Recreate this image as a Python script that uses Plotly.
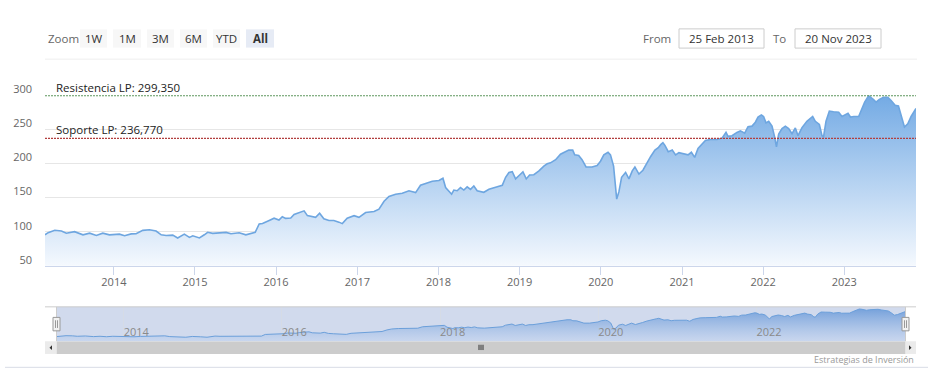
import plotly.graph_objects as go

# ---------------- data ----------------
dates = [
    "2013-02-25", "2013-03-11", "2013-04-10", "2013-05-10", "2013-06-01", "2013-07-08",
    "2013-08-15", "2013-09-14", "2013-10-14", "2013-11-12", "2013-12-12", "2014-01-26",
    "2014-02-18", "2014-03-20", "2014-04-11", "2014-05-11", "2014-06-10", "2014-07-10",
    "2014-08-02", "2014-08-24", "2014-09-23", "2014-10-15", "2014-11-14", "2014-12-07",
    "2014-12-22", "2015-01-21", "2015-02-12", "2015-02-27", "2015-03-22", "2015-04-21",
    "2015-05-21", "2015-06-12", "2015-07-19", "2015-08-18", "2015-09-10", "2015-09-29",
    "2015-10-17", "2015-11-01", "2015-12-01", "2015-12-23", "2016-01-14", "2016-01-29",
    "2016-02-13", "2016-03-07", "2016-03-22", "2016-04-21", "2016-05-06", "2016-05-21",
    "2016-06-12", "2016-06-27", "2016-07-15", "2016-08-03", "2016-08-26", "2016-09-17",
    "2016-10-10", "2016-10-25", "2016-11-16", "2016-12-17", "2017-01-08", "2017-02-07",
    "2017-03-17", "2017-04-08", "2017-05-01", "2017-05-23", "2017-06-22", "2017-07-22",
    "2017-08-21", "2017-09-20", "2017-10-12", "2017-11-04", "2017-12-04", "2018-01-03",
    "2018-01-21", "2018-02-02", "2018-03-01", "2018-03-11", "2018-03-26", "2018-04-10",
    "2018-04-25", "2018-05-10", "2018-05-25", "2018-06-09", "2018-06-24", "2018-07-24",
    "2018-08-16", "2018-09-15", "2018-09-30", "2018-10-15", "2018-10-30", "2018-11-14",
    "2018-11-29", "2018-12-14", "2019-01-01", "2019-01-16", "2019-01-31", "2019-02-15",
    "2019-03-06", "2019-03-29", "2019-04-20", "2019-05-05", "2019-05-20", "2019-06-12",
    "2019-07-04", "2019-07-26", "2019-08-10", "2019-08-28", "2019-09-06", "2019-09-24",
    "2019-10-09", "2019-10-27", "2019-11-23", "2019-12-16", "2019-12-31", "2020-01-15",
    "2020-02-03", "2020-02-14", "2020-02-28", "2020-03-13", "2020-03-23", "2020-04-04",
    "2020-04-22", "2020-05-07", "2020-05-22", "2020-06-03", "2020-06-21", "2020-07-09",
    "2020-07-24", "2020-08-13", "2020-09-01", "2020-09-16", "2020-09-27", "2020-10-07",
    "2020-10-16", "2020-10-31", "2020-11-18", "2020-12-03", "2020-12-18", "2021-01-09",
    "2021-01-28", "2021-02-12", "2021-02-27", "2021-03-14", "2021-04-01", "2021-04-16",
    "2021-05-09", "2021-06-08", "2021-06-30", "2021-07-18", "2021-07-27", "2021-08-14",
    "2021-09-05", "2021-09-21", "2021-10-10", "2021-10-25", "2021-11-12", "2021-11-27",
    "2021-12-09", "2021-12-24", "2022-01-03", "2022-01-14", "2022-01-26", "2022-02-10",
    "2022-02-22", "2022-03-02", "2022-03-12", "2022-03-27", "2022-04-11", "2022-04-26",
    "2022-05-11", "2022-05-26", "2022-06-07", "2022-06-25", "2022-07-17", "2022-08-01",
    "2022-08-12", "2022-08-24", "2022-09-11", "2022-09-23", "2022-09-30", "2022-10-11",
    "2022-10-26", "2022-11-14", "2022-12-07", "2022-12-22", "2023-01-06", "2023-01-18",
    "2023-01-29", "2023-02-13", "2023-03-07", "2023-03-19", "2023-04-03", "2023-04-21",
    "2023-05-03", "2023-05-13", "2023-05-24", "2023-06-08", "2023-06-27", "2023-07-16",
    "2023-07-31", "2023-08-18", "2023-09-02", "2023-09-17", "2023-09-29", "2023-10-14",
    "2023-10-29", "2023-11-20",
]
values = [
    95.4, 98.6, 102.0, 101.0, 97.8, 100.0,
    95.4, 97.8, 94.4, 97.8, 95.4, 96.4,
    94.0, 96.8, 97.0, 102.0, 102.9, 101.0,
    95.4, 94.4, 95.0, 90.8, 96.4, 91.6,
    94.0, 90.8, 95.5, 99.2, 97.5, 98.0,
    99.0, 97.0, 98.5, 95.4, 97.8, 99.0,
    111.3, 112.0, 116.5, 119.7, 117.0, 122.0,
    119.5, 120.0, 125.3, 129.0, 130.5, 123.5,
    122.0, 121.0, 127.0, 119.0, 116.5, 116.5,
    114.0, 111.8, 119.7, 123.5, 121.0, 128.0,
    129.5, 133.0, 144.6, 151.6, 154.9, 156.3,
    160.0, 157.2, 168.0, 170.3, 174.0, 175.0,
    178.3, 164.7, 154.9, 161.0, 160.0, 164.7,
    161.0, 165.7, 162.0, 167.0, 160.0, 157.7,
    162.0, 165.0, 166.6, 168.0, 179.7, 186.7,
    188.0, 177.3, 183.0, 187.7, 177.3, 183.0,
    183.5, 189.0, 196.0, 199.4, 200.8, 205.4,
    213.4, 217.2, 219.5, 219.5, 212.5, 211.6,
    205.4, 194.8, 194.8, 197.0, 203.2, 212.5,
    216.3, 212.5, 196.0, 147.8, 158.6, 179.7,
    186.7, 177.3, 189.0, 194.8, 184.4, 190.0,
    199.4, 210.2, 219.5, 222.9, 227.5, 230.3,
    226.5, 217.2, 219.5, 212.5, 215.8, 213.9,
    212.5, 216.3, 208.8, 221.9, 229.0, 233.6,
    235.0, 235.0, 237.0, 245.4, 239.7, 240.6,
    245.4, 247.6, 244.4, 253.8, 254.6, 260.3,
    267.9, 271.0, 268.7, 259.4, 261.7, 254.6,
    238.3, 224.3, 243.0, 251.0, 254.6, 251.0,
    243.5, 252.0, 240.6, 252.4, 261.7, 266.5,
    268.7, 261.7, 257.0, 240.6, 239.2, 261.7,
    276.7, 275.7, 274.9, 268.7, 272.0, 273.5,
    267.9, 268.7, 268.7, 278.0, 289.8, 299.2,
    296.8, 293.6, 289.8, 293.6, 296.8, 296.8,
    292.2, 285.1, 284.2, 268.7, 253.2, 258.0,
    268.7, 280.5,
]

resistance = 299.35
support = 236.77
resistance_label = "Resistencia LP: 299,350"
support_label = "Soporte LP: 236,770"

year_ticks = ["2014-01-01", "2015-01-01", "2016-01-01", "2017-01-01", "2018-01-01",
              "2019-01-01", "2020-01-01", "2021-01-01", "2022-01-01", "2023-01-01"]
year_labels = ["2014", "2015", "2016", "2017", "2018", "2019", "2020", "2021", "2022", "2023"]
nav_ticks = ["2014-01-01", "2016-01-01", "2018-01-01", "2020-01-01", "2022-01-01"]
nav_labels = ["2014", "2016", "2018", "2020", "2022"]
y_ticks = [50, 100, 150, 200, 250, 300]

zoom_buttons = ["1W", "1M", "3M", "6M", "YTD", "All"]
from_text = "25 Feb 2013"
to_text = "20 Nov 2023"
credit_text = "Estrategias de Inversión"

# ---------------- layout helpers ----------------
W, H = 930, 376
FONT = "Open Sans"
FS = 11.5


def px(x):
    return x / W


def py(y):
    return 1 - y / H


fig = go.Figure()

# main area series
fig.add_trace(go.Scatter(
    x=dates, y=values, mode="lines",
    line=dict(color="#6ea6e0", width=1.6),
    fill="tozeroy",
    fillgradient=dict(type="vertical", start=50, stop=300,
                      colorscale=[[0, "rgba(250,252,255,1)"], [1, "rgba(115,170,228,1)"]]),
    hoverinfo="x+y", showlegend=False, xaxis="x", yaxis="y",
))

# navigator series
fig.add_trace(go.Scatter(
    x=dates, y=values, mode="lines",
    line=dict(color="#6b9fda", width=1),
    fill="tozeroy",
    fillgradient=dict(type="vertical", start=60, stop=315,
                      colorscale=[[0, "rgba(200,215,240,0.6)"], [1, "rgba(100,150,215,0.9)"]]),
    hoverinfo="skip", showlegend=False, xaxis="x2", yaxis="y2",
))

shapes = []
annotations = []

# separator line under the range selector
shapes.append(dict(type="line", xref="paper", yref="paper",
                   x0=px(45), x1=px(917), y0=py(47), y1=py(47),
                   line=dict(color="#eeeeee", width=1)))

# range selector buttons
annotations.append(dict(text="Zoom", xref="paper", yref="paper", x=px(46), y=py(25),
                        xanchor="left", yanchor="middle", showarrow=False,
                        font=dict(family=FONT, size=FS, color="#666666")))
btn_x = [80, 113, 147, 180, 213, 246]
btn_w = [27, 28, 27, 27, 27, 28]
for i, lbl in enumerate(zoom_buttons):
    sel = lbl == "All"
    shapes.append(dict(type="rect", xref="paper", yref="paper",
                       x0=px(btn_x[i]), x1=px(btn_x[i] + btn_w[i]), y0=py(35), y1=py(16),
                       fillcolor="#e6ebf5" if sel else "#f7f7f7", line=dict(width=0)))
    annotations.append(dict(text=f"<b>{lbl}</b>" if sel else lbl, xref="paper", yref="paper",
                            x=px(btn_x[i] + btn_w[i] / 2), y=py(25.5),
                            xanchor="center", yanchor="middle", showarrow=False,
                            font=dict(family=FONT, size=FS, color="#333333")))

# from / to inputs
annotations.append(dict(text="From", xref="paper", yref="paper", x=px(673), y=py(25),
                        xanchor="right", yanchor="middle", showarrow=False,
                        font=dict(family=FONT, size=FS, color="#666666")))
annotations.append(dict(text="To", xref="paper", yref="paper", x=px(788), y=py(25),
                        xanchor="right", yanchor="middle", showarrow=False,
                        font=dict(family=FONT, size=FS, color="#666666")))
for (x0, x1, t) in [(679, 764, from_text), (795, 881, to_text)]:
    shapes.append(dict(type="rect", xref="paper", yref="paper",
                       x0=px(x0), x1=px(x1), y0=py(35.5), y1=py(15.5),
                       fillcolor="white", line=dict(color="#cccccc", width=1)))
    annotations.append(dict(text=t, xref="paper", yref="paper", x=px((x0 + x1) / 2), y=py(25.5),
                            xanchor="center", yanchor="middle", showarrow=False,
                            font=dict(family=FONT, size=FS, color="#333333")))

# resistance / support plot lines
for val, col, lbl in [(resistance, "rgb(92,150,92)", resistance_label),
                      (support, "rgb(178,62,62)", support_label)]:
    shapes.append(dict(type="line", xref="x domain", yref="y", x0=0, x1=1, y0=val, y1=val,
                       line=dict(color=col, width=1.3, dash="2px,1px"), layer="above"))
    annotations.append(dict(text=lbl, xref="x domain", yref="y", x=0.010, y=val,
                            xanchor="left", yanchor="bottom", showarrow=False, yshift=-1,
                            font=dict(family=FONT, size=FS, color="#222222")))

# navigator mask, outline and handles
shapes.append(dict(type="rect", xref="paper", yref="paper",
                   x0=px(56.5), x1=px(905.5), y0=py(341), y1=py(305),
                   fillcolor="rgba(102,133,194,0.3)", line=dict(width=0), layer="below"))
shapes.append(dict(type="line", xref="paper", yref="paper", x0=px(45), x1=px(916),
                   y0=py(305), y1=py(305), line=dict(color="#cccccc", width=1)))
for hx in [56.5, 905.5]:
    shapes.append(dict(type="line", xref="paper", yref="paper", x0=px(hx), x1=px(hx),
                       y0=py(305), y1=py(341), line=dict(color="#cccccc", width=1)))
    shapes.append(dict(type="rect", xref="paper", yref="paper",
                       x0=px(hx - 3.5), x1=px(hx + 3.5), y0=py(330), y1=py(316),
                       fillcolor="#f2f2f2", line=dict(color="#999999", width=1), layer="above"))
    for gx in [-1, 1]:
        shapes.append(dict(type="line", xref="paper", yref="paper",
                           x0=px(hx + gx), x1=px(hx + gx), y0=py(327), y1=py(319),
                           line=dict(color="#999999", width=1), layer="above"))

# scrollbar
shapes.append(dict(type="rect", xref="paper", yref="paper", x0=px(45), x1=px(916),
                   y0=py(354), y1=py(341), fillcolor="#f2f2f2", line=dict(width=0)))
shapes.append(dict(type="rect", xref="paper", yref="paper", x0=px(56.5), x1=px(905.5),
                   y0=py(354), y1=py(341), fillcolor="#cccccc", line=dict(width=0)))
for bx0, bx1 in [(45, 56.5), (905.5, 916)]:
    shapes.append(dict(type="rect", xref="paper", yref="paper", x0=px(bx0), x1=px(bx1),
                       y0=py(354), y1=py(341), fillcolor="#ebebeb", line=dict(width=0)))
shapes.append(dict(type="path", xref="paper", yref="paper",
                   path=f"M {px(49.5)} {py(347.5)} L {px(52)} {py(345)} L {px(52)} {py(350)} Z",
                   fillcolor="#333333", line=dict(width=0)))
shapes.append(dict(type="path", xref="paper", yref="paper",
                   path=f"M {px(911.5)} {py(347.5)} L {px(909)} {py(345)} L {px(909)} {py(350)} Z",
                   fillcolor="#333333", line=dict(width=0)))
for gx in [-2, 0, 2]:
    shapes.append(dict(type="line", xref="paper", yref="paper", x0=px(481 + gx), x1=px(481 + gx),
                       y0=py(350), y1=py(344.5), line=dict(color="#333333", width=1)))

# credit and bottom border
annotations.append(dict(text=credit_text, xref="paper", yref="paper", x=px(916), y=py(360),
                        xanchor="right", yanchor="middle", showarrow=False,
                        font=dict(family=FONT, size=9, color="#999999")))
shapes.append(dict(type="line", xref="paper", yref="paper", x0=px(5), x1=px(928),
                   y0=py(368), y1=py(368), line=dict(color="#d8dce6", width=1)))

fig.update_layout(
    width=W, height=H,
    margin=dict(l=0, r=0, t=0, b=0),
    paper_bgcolor="white", plot_bgcolor="rgba(0,0,0,0)",
    font=dict(family=FONT, size=11, color="#666666"),
    showlegend=False,
    hovermode="x",
    xaxis=dict(
        domain=[px(45), px(916)], type="date", range=[dates[0], dates[-1]],
        tickvals=year_ticks, ticktext=year_labels,
        ticks="outside", ticklen=8, tickcolor="#ccd6eb", tickwidth=1,
        showline=True, linecolor="#ccd6eb", linewidth=1,
        showgrid=False, zeroline=False,
        tickfont=dict(family=FONT, size=11, color="#666666"),
        ticklabelstandoff=-2,
        anchor="y", fixedrange=True,
    ),
    yaxis=dict(
        domain=[py(262.3), py(84.5)], range=[50, 300],
        tickvals=y_ticks, ticks="", showgrid=True, gridcolor="#e6e6e6", gridwidth=1,
        zeroline=False, showline=False,
        tickfont=dict(family=FONT, size=11, color="#666666"),
        ticklabelshift=-6, ticklabelstandoff=12,
        anchor="x", fixedrange=True,
    ),
    xaxis2=dict(
        domain=[px(56.5), px(905.5)], type="date", range=[dates[0], dates[-1]],
        tickvals=nav_ticks, ticktext=nav_labels,
        ticks="", showgrid=True, gridcolor="#d5dbe6", gridwidth=1,
        showline=False, zeroline=False,
        ticklabelposition="inside right", ticklabelstandoff=-3,
        tickfont=dict(family=FONT, size=11, color="#8a8a8a"),
        anchor="y2", fixedrange=True,
    ),
    yaxis2=dict(
        domain=[py(341), py(305)], range=[60, 315],
        visible=False, showgrid=False, zeroline=False,
        anchor="x2", fixedrange=True,
    ),
    shapes=shapes,
    annotations=annotations,
)

fig.write_html("out.html")
